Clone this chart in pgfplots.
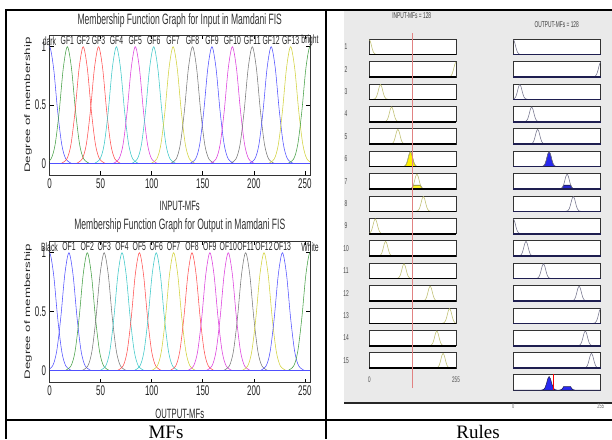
\documentclass[border=0pt]{standalone}
\usepackage{graphicx}
\usepackage{pgfplots}
\pgfplotsset{compat=1.18}
\usepackage{pgfplotstable}
\usepackage{fontspec}
\setmainfont{Liberation Serif}
\newfontfamily\sq[FakeStretch=0.57]{Liberation Sans}
\newfontfamily\ls{Liberation Sans}
\newcommand\fs[1]{\fontsize{#1}{#1}\selectfont}

\definecolor{mb}{RGB}{80,80,255}
\definecolor{mg}{RGB}{70,160,70}
\definecolor{mr}{RGB}{255,80,80}
\definecolor{mc}{RGB}{60,200,200}
\definecolor{mm}{RGB}{220,60,220}
\definecolor{my}{RGB}{210,210,60}
\definecolor{mk}{RGB}{120,120,120}
\definecolor{panel}{RGB}{234,234,234}
\definecolor{inmf}{RGB}{190,190,110}
\definecolor{outmf}{RGB}{115,115,140}
\definecolor{navy}{RGB}{30,30,80}
\definecolor{redl}{RGB}{225,130,130}
\definecolor{fillb}{RGB}{40,40,240}

\pgfplotstableread{
y dark gf1 gf2 gf3 gf4 gf5 gf6 gf7 gf8 gf9 gf10 gf11 gf12 gf13 bright
0 -22 -4.5 11 26 43.5 62 80 99 118 137 157 176.5 195 214 233
.04 -16 1.5 17 32 49.5 68 86 105 124 143 163 182.5 201 220 239
.163 -12 5.5 21 36 53.5 72 90 109 128 147 167 186.5 205 224 243
.447 -8 9.5 25 40 57.5 76 94 113 132 151 171 190.5 209 228 247
.817 -4 13.5 29 44 61.5 80 98 117 136 155 175 194.5 213 232 251
1 0 17.5 33 48 65.5 84 102 121 140 159 179 198.5 217 236 255
.817 4 21.5 37 52 69.5 88 106 125 144 163 183 202.5 221 240 259
.447 8 25.5 41 56 73.5 92 110 129 148 167 187 206.5 225 244 263
.163 12 29.5 45 60 77.5 96 114 133 152 171 191 210.5 229 248 267
.04 16 33.5 49 64 81.5 100 118 137 156 175 195 214.5 233 252 271
0 22 39.5 55 70 87.5 106 124 143 162 181 201 220.5 239 258 277
}\tIn

\pgfplotstableread{
y black of1 of2 of3 of4 of5 of6 of7 of8 of9 of10 of11 of12 of13 white
0 -22 -3 15 31.5 49 66 82.5 99.5 117.5 135 153 170 188 206 233
.04 -16 3 21 37.5 55 72 88.5 105.5 123.5 141 159 176 194 212 239
.163 -12 7 25 41.5 59 76 92.5 109.5 127.5 145 163 180 198 216 243
.447 -8 11 29 45.5 63 80 96.5 113.5 131.5 149 167 184 202 220 247
.817 -4 15 33 49.5 67 84 100.5 117.5 135.5 153 171 188 206 224 251
1 0 19 37 53.5 71 88 104.5 121.5 139.5 157 175 192 210 228 255
.817 4 23 41 57.5 75 92 108.5 125.5 143.5 161 179 196 214 232 259
.447 8 27 45 61.5 79 96 112.5 129.5 147.5 165 183 200 218 236 263
.163 12 31 49 65.5 83 100 116.5 133.5 151.5 169 187 204 222 240 267
.04 16 35 53 69.5 87 104 120.5 137.5 155.5 173 191 208 226 244 271
0 22 41 59 75.5 93 110 126.5 143.5 161.5 179 197 214 232 250 277
}\tOut

\pgfplotstableread{
x y
118 0
124 .04
128 .163
129.5 .25
150.5 .25
152 .163
156 .04
162 0
}\tInClip

\pgfplotstableread{
x y
135 0
141 .04
145 .163
146.5 .25
167.5 .25
169 .163
173 .04
179 0
}\tOutClip

\pgfplotstableread{
x y
0 0
82.5 0
88.5 .04
92.5 .163
96.5 .447
100.5 .817
104.5 1
108.5 .817
112.5 .447
116.5 .163
120.5 .04
126.5 0
135 0
141 .04
145 .163
146.5 .25
167.5 .25
169 .163
173 .04
179 0
255 0
}\tAgg

\tikzset{lab/.style={font=\sq\fs{12}, text=black!85, inner sep=0pt}}

\pgfplotsset{
 mfplot/.style={scale only axis, width=260.5pt, anchor=north west,
  xmin=0, xmax=255, ymin=-0.1, ymax=1.1,
  xtick={0,50,100,150,200,250}, xticklabels={0,50,100,150,200,250},
  ytick={0,0.5,1}, yticklabels={0,0.5,1},
  tick align=inside, major tick length=4pt,
  tick style={black, line width=0.5pt},
  axis line style={line width=0.6pt, black!80},
  /pgf/number format/assume math mode=true,
  ticklabel style={font=\sq\fs{14}, text=black!85},
  every axis y label/.style={at={(axis description cs:-0.0825,0.5)}, rotate=90, anchor=center, text=black!85},
  every axis x label/.style={at={(axis description cs:0.5,-0.218)}, anchor=center, font=\sq\fs{13.5}, text=black!85},
  every axis title/.style={at={(axis description cs:0.5,1.105)}, anchor=center, font=\sq\fs{15}, text=black!80},
  clip mode=individual,
  axis background/.style={fill=white}},
 mf/.style={smooth, line width=0.55pt, no markers},
 rulebox/.style={scale only axis, width=86.7pt, height=15.5pt, anchor=north west,
  xmin=0, xmax=255, ymin=0, ymax=1.05, ticks=none,
  axis line style={line width=0.5pt, black!80},
  axis background/.style={fill=white}, clip mode=individual,
  after end axis/.code={\draw[line width=1.6pt, black] (rel axis cs:0,0) -- (rel axis cs:1,0);}},
 outbox/.style={width=87.4pt,
  after end axis/.code={\draw[line width=1.6pt, navy] (rel axis cs:0,0) -- (rel axis cs:1,0);}},
 rin/.style={smooth, line width=0.55pt, inmf, no markers},
 rout/.style={smooth, line width=0.55pt, outmf, no markers},
}

% row: #1 number, #2 top, #3 input MF, #4 output MF, #5 extra input, #6 extra output
\newcommand\rrow[6]{%
 \node[font=\sq\fs{8.5}, text=black!70] at (346pt,-#2pt-7.75pt) {#1};
 \begin{axis}[rulebox, at={(369.3pt,-#2pt)}]
  #5
  \addplot[rin] table[x=#3,y=y]{\tIn};
 \end{axis}
 \begin{axis}[rulebox, outbox, at={(513.3pt,-#2pt)}]
  #6
  \addplot[rout] table[x=#4,y=y]{\tOut};
 \end{axis}}

\begin{document}
\begin{tikzpicture}[x=1pt,y=1pt]
\useasboundingbox (0,0) rectangle (612,-439);
\fill[white] (0,0) rectangle (612,-439);
% rule viewer panel
\fill[panel] (344,-10.5) rectangle (612,-403);
\draw[line width=1.5pt, black!85] (344,-403) -- (612,-403);
% table lines
\draw[line width=1.9pt] (5,-10) -- (612,-10);
\draw[line width=1.8pt] (6,-10) -- (6,-439);
\draw[line width=1.8pt] (325.7,-10) -- (325.7,-439);
\draw[line width=2.1pt] (5,-420) -- (612,-420);
\node[anchor=base, font=\fs{19}] at (166,-438.5) {MFs};
\node[anchor=base, font=\fs{19}] at (478,-438.5) {Rules};

% ---------- input MF plot ----------
\begin{axis}[mfplot, at={(49.5pt,-35pt)}, height=140.3pt,
  title={Membership Function Graph for Input in Mamdani FIS},
  xlabel={INPUT-MFs},
  ylabel={\scalebox{1}[0.6]{\ls\fs{13.3}Degree of membership}}]
 \addplot[mf, mb] table[x=dark,y=y]{\tIn};
 \addplot[mf, mg] table[x=gf1,y=y]{\tIn};
 \addplot[mf, mr] table[x=gf2,y=y]{\tIn};
 \addplot[mf, mr] table[x=gf3,y=y]{\tIn};
 \addplot[mf, mc] table[x=gf4,y=y]{\tIn};
 \addplot[mf, mm] table[x=gf5,y=y]{\tIn};
 \addplot[mf, mc] table[x=gf6,y=y]{\tIn};
 \addplot[mf, my] table[x=gf7,y=y]{\tIn};
 \addplot[mf, mk] table[x=gf8,y=y]{\tIn};
 \addplot[mf, mb] table[x=gf9,y=y]{\tIn};
 \addplot[mf, mm] table[x=gf10,y=y]{\tIn};
 \addplot[mf, mk] table[x=gf11,y=y]{\tIn};
 \addplot[mf, mb] table[x=gf12,y=y]{\tIn};
 \addplot[mf, my] table[x=gf13,y=y]{\tIn};
 \addplot[mf, mg] table[x=bright,y=y]{\tIn};
 \addplot[mb, line width=1.4pt] coordinates {(0,0) (255,0)};
 \node[lab] at (axis cs:0,1.05) {dark};
 \node[lab] at (axis cs:17.5,1.05) {GF1};
 \node[lab] at (axis cs:33,1.05) {GF2};
 \node[lab] at (axis cs:48,1.05) {GF3};
 \node[lab] at (axis cs:65.5,1.05) {GF4};
 \node[lab] at (axis cs:84,1.05) {GF5};
 \node[lab] at (axis cs:102,1.05) {GF6};
 \node[lab] at (axis cs:121,1.05) {GF7};
 \node[lab] at (axis cs:140,1.05) {GF8};
 \node[lab] at (axis cs:159,1.05) {GF9};
 \node[lab] at (axis cs:179,1.05) {GF10};
 \node[lab] at (axis cs:198.5,1.05) {GF11};
 \node[lab] at (axis cs:217,1.05) {GF12};
 \node[lab] at (axis cs:236,1.05) {GF13};
 \node[lab] at (axis cs:255,1.05) {bright};
\end{axis}

% ---------- output MF plot ----------
\begin{axis}[mfplot, at={(49.5pt,-240.9pt)}, height=141.6pt,
  title={Membership Function Graph for Output in Mamdani FIS},
  xlabel={OUTPUT-MFs},
  ylabel={\scalebox{1}[0.6]{\ls\fs{13.3}Degree of membership}}]
 \addplot[mf, mb] table[x=black,y=y]{\tOut};
 \addplot[mf, mb] table[x=of1,y=y]{\tOut};
 \addplot[mf, mg] table[x=of2,y=y]{\tOut};
 \addplot[mf, mk] table[x=of3,y=y]{\tOut};
 \addplot[mf, mc] table[x=of4,y=y]{\tOut};
 \addplot[mf, mr] table[x=of5,y=y]{\tOut};
 \addplot[mf, mc] table[x=of6,y=y]{\tOut};
 \addplot[mf, my] table[x=of7,y=y]{\tOut};
 \addplot[mf, mr] table[x=of8,y=y]{\tOut};
 \addplot[mf, mm] table[x=of9,y=y]{\tOut};
 \addplot[mf, mm] table[x=of10,y=y]{\tOut};
 \addplot[mf, mk] table[x=of11,y=y]{\tOut};
 \addplot[mf, my] table[x=of12,y=y]{\tOut};
 \addplot[mf, mb] table[x=of13,y=y]{\tOut};
 \addplot[mf, mg] table[x=white,y=y]{\tOut};
 \addplot[mb, line width=1.4pt] coordinates {(0,0) (255,0)};
 \node[lab] at (axis cs:0,1.05) {Black};
 \node[lab] at (axis cs:19,1.05) {OF1};
 \node[lab] at (axis cs:37,1.05) {OF2};
 \node[lab] at (axis cs:53.5,1.05) {OF3};
 \node[lab] at (axis cs:71,1.05) {OF4};
 \node[lab] at (axis cs:88,1.05) {OF5};
 \node[lab] at (axis cs:104.5,1.05) {OF6};
 \node[lab] at (axis cs:121.5,1.05) {OF7};
 \node[lab] at (axis cs:139.5,1.05) {OF8};
 \node[lab] at (axis cs:157,1.05) {OF9};
 \node[lab] at (axis cs:175,1.05) {OF10};
 \node[lab] at (axis cs:192,1.05) {OF11};
 \node[lab] at (axis cs:210,1.05) {OF12};
 \node[lab] at (axis cs:228,1.05) {OF13};
 \node[lab] at (axis cs:255,1.05) {White};
\end{axis}

% ---------- rule viewer ----------
\node[font=\sq\fs{8.5}, text=black!75] at (411.7,-15.5) {INPUT-MFs = 128};
\node[font=\sq\fs{8.5}, text=black!75] at (556.7,-24.5) {OUTPUT-MFs = 128};

\rrow{1}{39.0}{dark}{black}{}{}
\rrow{2}{61.4}{bright}{white}{}{}
\rrow{3}{83.8}{gf2}{of1}{}{}
\rrow{4}{106.2}{gf4}{of3}{}{}
\rrow{5}{128.6}{gf5}{of4}{}{}
\rrow{6}{151.0}{gf7}{of6}%
 {\addplot[smooth, fill=yellow, draw=black!70!yellow, line width=0.5pt] table[x=gf7,y=y]{\tIn} \closedcycle;}%
 {\addplot[smooth, fill=fillb, draw=navy, line width=0.5pt] table[x=of6,y=y]{\tOut} \closedcycle;}
\rrow{7}{173.4}{gf8}{of9}%
 {\addplot[fill=yellow!85!white, draw=black!60!yellow, line width=0.7pt] table{\tInClip} \closedcycle;}%
 {\addplot[fill=fillb!80!navy, draw=navy, line width=0.6pt] table{\tOutClip} \closedcycle;}
\rrow{8}{195.8}{gf9}{of10}{}{}
\rrow{9}{218.2}{gf1}{black}{}{}
\rrow{10}{240.6}{gf3}{of2}{}{}
\rrow{11}{263.0}{gf6}{of5}{}{}
\rrow{12}{285.4}{gf10}{of11}{}{}
\rrow{13}{307.8}{gf13}{white}{}{}
\rrow{14}{330.2}{gf11}{of12}{}{}
\rrow{15}{352.6}{gf12}{of13}{}{}

% aggregated output
\begin{axis}[rulebox, outbox, at={(513.3pt,-374pt)}, height=16pt, ymax=1.18,
  after end axis/.code={}]
 \addplot[fill=fillb, draw=navy, line width=0.5pt] table{\tAgg} \closedcycle;
 \addplot[red, line width=1.2pt] coordinates {(117,0) (117,1.18)};
\end{axis}

% input value line
\begin{axis}[scale only axis, width=86.7pt, height=355pt, anchor=north west,
  at={(369.3pt,-33pt)}, xmin=0, xmax=255, ymin=0, ymax=1, hide axis]
 \addplot[redl, line width=0.8pt] coordinates {(128,0) (128,1)};
\end{axis}

\node[font=\sq\fs{8}, text=black!70] at (369.3,-380) {0};
\node[font=\sq\fs{8}, text=black!70] at (456,-380) {255};
\node[font=\sq\fs{7}, text=black!60] at (513.3,-406.5) {0};
\node[font=\sq\fs{7}, text=black!60] at (600.7,-406.5) {255};
\end{tikzpicture}
\end{document}
